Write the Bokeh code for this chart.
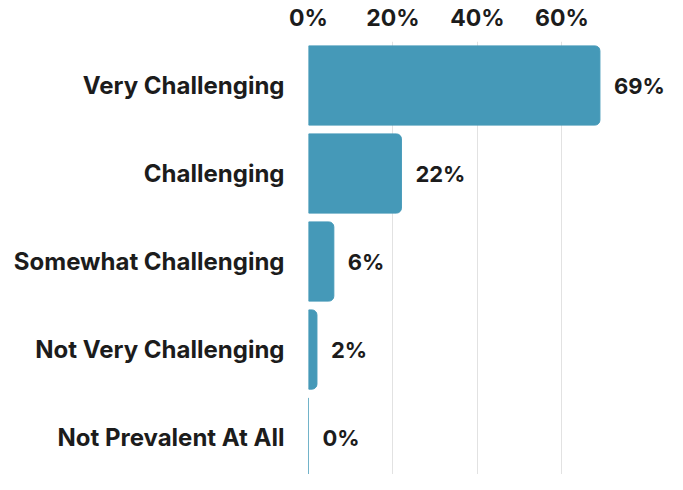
from bokeh.plotting import figure
from bokeh.models import FixedTicker, Range1d, LabelSet, ColumnDataSource
from bokeh.core.properties import value
from bokeh.embed import file_html
from bokeh.resources import INLINE

categories = ["Very Challenging", "Challenging", "Somewhat Challenging",
              "Not Very Challenging", "Not Prevalent At All"]
values = [69, 22, 6, 2, 0]
tick_values = [0, 20, 40, 60]
tick_labels = ["0%", "20%", "40%", "60%"]

pos = list(range(len(categories)))
src = ColumnDataSource(dict(y=pos, v=values, lab=[f"{v}%" for v in values]))

FONT = "Inter"
TXT = "#1c1c1c"

p = figure(width=667, height=474, output_backend="svg", toolbar_location=None,
           x_axis_location="above", min_border_left=308, min_border_top=41,
           min_border_right=0, min_border_bottom=0)
p.x_range = Range1d(0, 85)
p.y_range = Range1d(4.42, -0.5)

p.hbar(y="y", right="v", left=0, height=0.9, source=src, color="#4599b8",
       border_radius=(0, 5, 5, 0))

labels = LabelSet(x="v", y="y", text="lab", source=src, x_offset=14,
                  text_align="left", text_baseline="middle",
                  text_font=value(FONT), text_font_style="bold",
                  text_font_size="22px", text_color=TXT)
p.add_layout(labels)

xa = p.xaxis[0]
xa.ticker = FixedTicker(ticks=tick_values)
xa.major_label_overrides = {t: l for t, l in zip(tick_values, tick_labels)}
xa.axis_line_color = None
xa.major_tick_line_color = None
xa.minor_tick_line_color = None
xa.major_label_standoff = 4
xa.major_label_text_font = FONT
xa.major_label_text_font_style = "bold"
xa.major_label_text_font_size = "23px"
xa.major_label_text_color = TXT

ya = p.yaxis[0]
ya.ticker = FixedTicker(ticks=pos)
ya.major_label_overrides = {i: c for i, c in zip(pos, categories)}
ya.axis_line_color = None
ya.major_tick_line_color = None
ya.minor_tick_line_color = None
ya.major_label_standoff = 18
ya.major_label_text_font = FONT
ya.major_label_text_font_style = "bold"
ya.major_label_text_font_size = "24px"
ya.major_label_text_color = TXT

p.xgrid.grid_line_color = "#e2e2e2"
p.ygrid.grid_line_color = None
p.outline_line_color = None
p.background_fill_color = "white"
p.border_fill_color = "white"

open("out.html", "w").write(file_html(p, INLINE))
